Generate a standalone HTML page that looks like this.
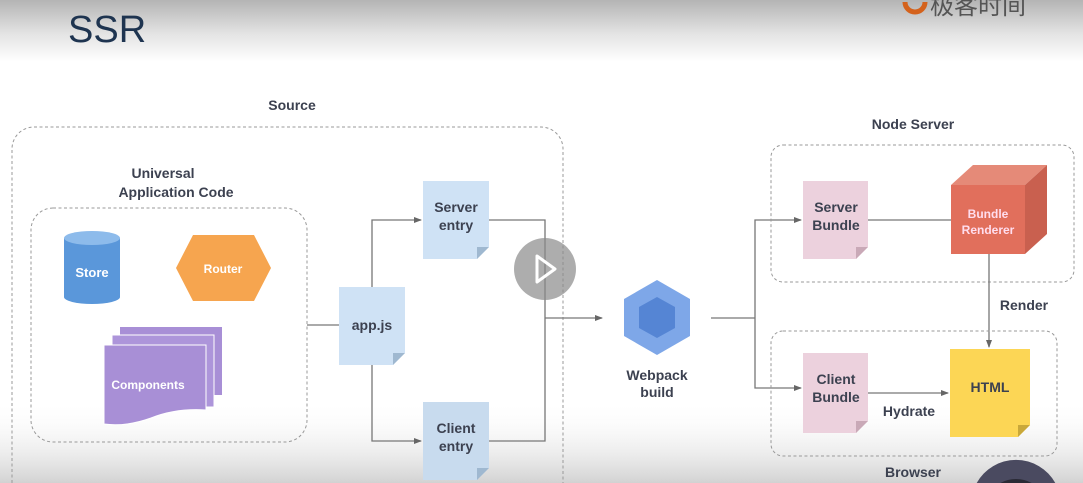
<!DOCTYPE html>
<html><head><meta charset="utf-8"><style>
html,body{margin:0;padding:0;width:1083px;height:483px;overflow:hidden;background:#fff}
svg{display:block}
text{font-family:"Liberation Sans","Noto Sans CJK SC",sans-serif;font-weight:bold}
</style></head><body>
<svg width="1083" height="483" viewBox="0 0 1083 483" xmlns="http://www.w3.org/2000/svg">
<defs>
<linearGradient id="top" x1="0" y1="0" x2="0" y2="1">
<stop offset="0" stop-color="#b4b4b4"/><stop offset="0.55" stop-color="#e4e4e4"/><stop offset="1" stop-color="#ffffff"/>
</linearGradient>
<linearGradient id="bot" x1="0" y1="0" x2="0" y2="1">
<stop offset="0" stop-color="#ffffff" stop-opacity="0"/><stop offset="1" stop-color="#d2d2d2"/>
</linearGradient>
<marker id="ar" markerWidth="8" markerHeight="8" refX="7" refY="4" orient="auto" markerUnits="userSpaceOnUse">
<path d="M0,1 L8,4 L0,7 Z" fill="#666"/></marker>
</defs>
<rect x="0" y="0" width="1083" height="62" fill="url(#top)"/>
<rect x="0" y="400" width="1083" height="83" fill="url(#bot)"/>
<text x="68" y="42" font-size="38" fill="#1e3450" style="font-weight:normal">SSR</text>
<path d="M905,2 a10,10 0 0 0 20,0" fill="none" stroke="#d4621c" stroke-width="5"/>
<text x="930" y="14" font-size="24" fill="#555" style="font-weight:normal">极客时间</text>

<!-- Source -->
<text x="292" y="110" font-size="14" fill="#3c4150" text-anchor="middle">Source</text>
<path d="M12,483 V149 a22,22 0 0 1 22,-22 H541 a22,22 0 0 1 22,22 V483" fill="none" stroke="#999" stroke-dasharray="3,2.5"/>
<text x="163" y="178" font-size="14" fill="#3c4150" text-anchor="middle">Universal</text>
<text x="176" y="197" font-size="14" fill="#3c4150" text-anchor="middle">Application Code</text>
<rect x="31" y="208" width="276" height="234" rx="22" fill="none" stroke="#999" stroke-dasharray="3,2.5"/>

<!-- Store -->
<path d="M64,238 v59 a28,7 0 0 0 56,0 v-59 z" fill="#5a97da"/>
<ellipse cx="92" cy="238" rx="28" ry="7" fill="#8dbbeb"/>
<text x="92" y="277" font-size="13" fill="#fff" text-anchor="middle">Store</text>
<!-- Router -->
<polygon points="176,268 193,235 254,235 271,268 254,301 193,301" fill="#f6a54f"/>
<text x="223" y="273" font-size="12" fill="#fff" text-anchor="middle">Router</text>
<!-- Components -->
<rect x="120" y="327" width="102" height="68" fill="#a88fd6"/>
<rect x="112" y="335" width="102" height="72" fill="#ad95da" stroke="#fff" stroke-width="1"/>
<path d="M104,345 h102 v65 q-30,-2 -55,8 q-25,9 -47,6 z" fill="#a88fd6" stroke="#fff" stroke-width="1"/>
<text x="148" y="389" font-size="12" fill="#fff" text-anchor="middle">Components</text>

<!-- lines source -->
<line x1="307" y1="325" x2="339" y2="325" stroke="#777" stroke-width="1.3"/>
<polyline points="372,287 372,220 421,220" fill="none" stroke="#777" stroke-width="1.3" marker-end="url(#ar)"/>
<polyline points="372,365 372,441 421,441" fill="none" stroke="#777" stroke-width="1.3" marker-end="url(#ar)"/>
<polyline points="489,220 545,220 545,441 489,441" fill="none" stroke="#777" stroke-width="1.3"/>
<line x1="545" y1="318" x2="602" y2="318" stroke="#777" stroke-width="1.3" marker-end="url(#ar)"/>

<!-- app.js -->
<path d="M339,287 h66 v66 l-12,12 h-54 z" fill="#cfe2f5"/>
<path d="M405,353 l-12,12 v-12 z" fill="#9fb8d0"/>
<text x="372" y="330" font-size="14" fill="#3c4150" text-anchor="middle">app.js</text>
<!-- server entry -->
<path d="M423,181 h66 v66 l-12,12 h-54 z" fill="#cfe2f5"/>
<path d="M489,247 l-12,12 v-12 z" fill="#9fb8d0"/>
<text x="456" y="212" font-size="14" fill="#3c4150" text-anchor="middle">Server</text>
<text x="456" y="230" font-size="14" fill="#3c4150" text-anchor="middle">entry</text>
<!-- client entry -->
<path d="M423,402 h66 v66 l-12,12 h-54 z" fill="#c8dbee"/>
<path d="M489,468 l-12,12 v-12 z" fill="#9fb8d0"/>
<text x="456" y="433" font-size="14" fill="#3c4150" text-anchor="middle">Client</text>
<text x="456" y="451" font-size="14" fill="#3c4150" text-anchor="middle">entry</text>

<!-- play -->
<circle cx="545" cy="269" r="31" fill="#8a8a8a" fill-opacity="0.7"/>
<path d="M537,256 L555,269 L537,282 Z" fill="none" stroke="#fff" stroke-width="3" stroke-linejoin="round"/>

<!-- webpack -->
<polygon points="657,280 690,299 690,336 657,355 624,336 624,299" fill="#7ea7e8"/>
<polygon points="657,297 675,307 675,328 657,338 639,328 639,307" fill="#5585d4"/>
<text x="657" y="380" font-size="14" fill="#3c4150" text-anchor="middle">Webpack</text>
<text x="657" y="397" font-size="14" fill="#3c4150" text-anchor="middle">build</text>
<line x1="711" y1="318" x2="755" y2="318" stroke="#777" stroke-width="1.3"/>
<polyline points="755,318 755,220 801,220" fill="none" stroke="#777" stroke-width="1.3" marker-end="url(#ar)"/>
<polyline points="755,318 755,388 801,388" fill="none" stroke="#777" stroke-width="1.3" marker-end="url(#ar)"/>

<!-- node server -->
<text x="913" y="129" font-size="14" fill="#3c4150" text-anchor="middle">Node Server</text>
<rect x="771" y="145" width="303" height="137" rx="12" fill="none" stroke="#999" stroke-dasharray="3,2.5"/>
<path d="M803,181 h65 v66 l-12,12 h-53 z" fill="#ecd1dd"/>
<path d="M868,247 l-12,12 v-12 z" fill="#c9a9b7"/>
<text x="836" y="212" font-size="14" fill="#3c4150" text-anchor="middle">Server</text>
<text x="836" y="230" font-size="14" fill="#3c4150" text-anchor="middle">Bundle</text>
<line x1="868" y1="220" x2="951" y2="220" stroke="#777" stroke-width="1.3"/>
<polygon points="951,185 973,165 1047,165 1025,185" fill="#e58a78"/>
<polygon points="1025,185 1047,165 1047,234 1025,254" fill="#c9604f"/>
<rect x="951" y="185" width="74" height="69" fill="#e16f5c"/>
<text x="988" y="218" font-size="12" fill="#fde" text-anchor="middle">Bundle</text>
<text x="988" y="234" font-size="12" fill="#fde" text-anchor="middle">Renderer</text>
<line x1="989" y1="254" x2="989" y2="347" stroke="#777" stroke-width="1.3" marker-end="url(#ar)"/>
<text x="1024" y="310" font-size="14" fill="#3c4150" text-anchor="middle">Render</text>

<!-- browser -->
<rect x="771" y="331" width="286" height="125" rx="12" fill="none" stroke="#999" stroke-dasharray="3,2.5"/>
<path d="M803,353 h65 v68 l-12,12 h-53 z" fill="#ecd1dd"/>
<path d="M868,421 l-12,12 v-12 z" fill="#c9a9b7"/>
<text x="836" y="384" font-size="14" fill="#3c4150" text-anchor="middle">Client</text>
<text x="836" y="402" font-size="14" fill="#3c4150" text-anchor="middle">Bundle</text>
<line x1="868" y1="393" x2="948" y2="393" stroke="#777" stroke-width="1.3" marker-end="url(#ar)"/>
<text x="909" y="416" font-size="14" fill="#3c4150" text-anchor="middle">Hydrate</text>
<path d="M950,349 h80 v76 l-12,12 h-68 z" fill="#fcd655"/>
<path d="M1030,425 l-12,12 v-12 z" fill="#c9a83a"/>
<text x="990" y="392" font-size="14" fill="#3c4150" text-anchor="middle">HTML</text>
<text x="913" y="477" font-size="14" fill="#3c4150" text-anchor="middle">Browser</text>
<path d="M976.7,483 A45,45 0 0 1 1055.3,483 Z" fill="#4a4a60"/>
<path d="M1000.3,483 A33,33 0 0 1 1031.7,483 Z" fill="#2a2a35"/>
</svg>
</body></html>
